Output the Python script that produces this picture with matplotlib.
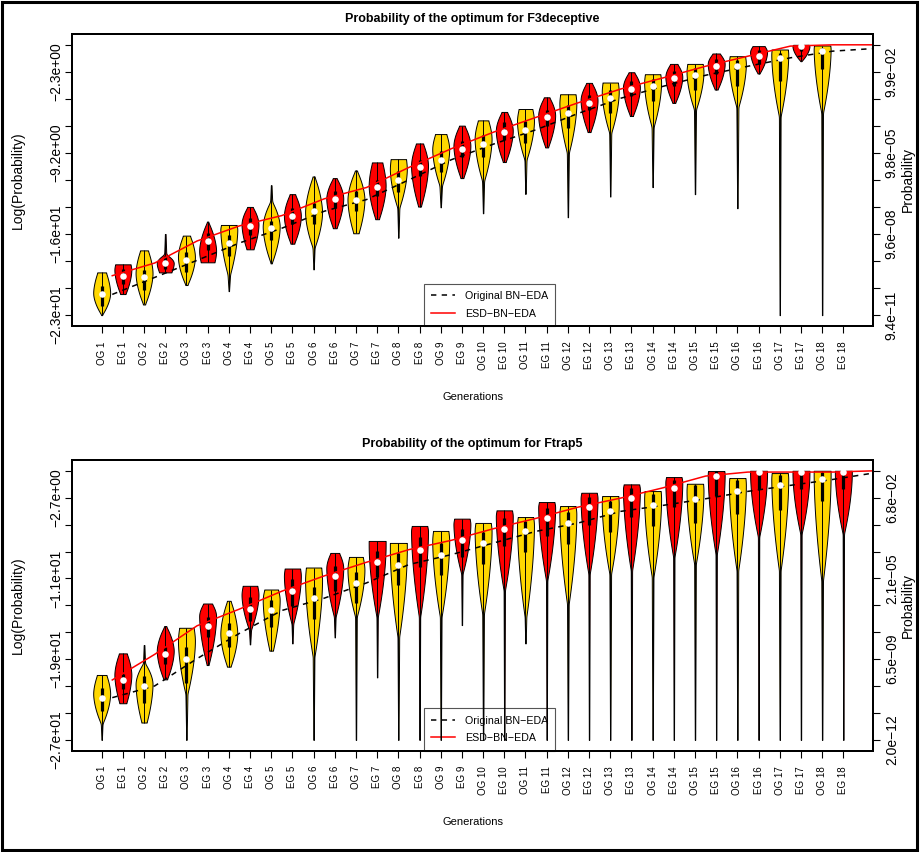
import numpy as np
import matplotlib
matplotlib.use("Agg")
import matplotlib.pyplot as plt
from matplotlib.lines import Line2D
from matplotlib.patches import Rectangle

plt.rcParams['font.family'] = ['Liberation Sans', 'DejaVu Sans']

# ---------------- data ----------------
generations = list(range(1, 19))
x_labels = [f"{p} {g}" for g in generations for p in ("OG", "EG")]

titles = ["Probability of the optimum for F3deceptive",
          "Probability of the optimum for Ftrap5"]
legend_labels = ["Original BN\u2212EDA", "ESD\u2212BN\u2212EDA"]

ymins = [-23.083, -26.93]
left_labels = [
    ["", "\u22122.3e+00", "", "", "\u22129.2e+00", "", "", "\u22121.6e+01", "", "", "\u22122.3e+01"],
    ["", "\u22122.7e+00", "", "", "\u22121.1e+01", "", "", "\u22121.9e+01", "", "", "\u22122.7e+01"],
]
right_labels = [
    ["", "9.9e\u221202", "", "", "9.8e\u221205", "", "", "9.6e\u221208", "", "", "9.4e\u221211"],
    ["", "6.8e\u221202", "", "", "2.1e\u221205", "", "", "6.5e\u221209", "", "", "2.0e\u221212"],
]

# ---- panel 1 (F3deceptive), Original generations ----
p1_og_hi = [-19.43, -17.55, -16.29, -15.38, -11.99, -11.24, -10.73, -9.76, -7.62, -6.45, -5.48, -4.22, -3.22, -2.51, -1.63, -0.97, -0.40, -0.06]
p1_og_lo = [-23.08, -22.17, -20.51, -21.03, -18.66, -19.17, -16.09, -16.46, -13.87, -14.38, -12.72, -14.72, -12.95, -12.15, -12.75, -13.95, -23.08, -23.08]
p1_og_med = [-21.31, -19.86, -18.40, -16.92, -15.66, -14.21, -13.21, -11.53, -9.81, -8.47, -7.25, -5.85, -4.56, -3.54, -2.60, -1.83, -1.11, -0.54]
p1_og_q3 = [-20.6, -19.2, -17.7, -16.2, -15.0, -13.5, -12.5, -10.8, -9.1, -7.7, -6.5, -5.1, -3.9, -2.9, -2.0, -1.3, -0.68, -0.26]
p1_og_q1 = [-22.3, -20.9, -19.4, -18.0, -16.7, -15.3, -14.2, -12.6, -10.9, -9.6, -8.4, -7.1, -5.8, -4.8, -3.9, -3.5, -3.1, -2.1]
p1_og_peak = [-21.2, -19.5, -18.1, -15.7, -15.5, -14.3, -13.2, -10.6, -8.9, -8.0, -6.5, -5.0, -4.0, -3.2, -2.3, -1.6, -0.8, -0.3]
p1_og_wtop = [0.5, 0.45, 0.4, 0.9, 0.04, 0.1, 0.1, 0.9, 0.65, 0.6, 0.8, 0.9, 0.9, 0.9, 0.9, 0.9, 0.95, 0.95]
p1_og_spike = [None, None, None, None, -13.4, None, None, None, None, None, None, None, None, None, None, None, None, None]
p1_og_tail = [-23.08, -22.17, -20.51, -19.6, -18.66, -17.3, -16.09, -13.9, -12.0, -11.6, -9.8, -9.2, -7.5, -7.0, -5.5, -5.3, -6.1, -5.8]
p1_og_wtail = [0.0, 0.1, 0.1, 0.15, 0.05, 0.12, 0.3, 0.12, 0.15, 0.12, 0.12, 0.12, 0.12, 0.12, 0.12, 0.12, 0.1, 0.1]

# ---- panel 1, ESD generations ----
p1_eg_hi = [-18.74, -16.15, -15.09, -13.84, -12.75, -11.38, -10.04, -8.42, -6.90, -5.73, -4.48, -3.25, -2.34, -1.63, -0.74, -0.11, 0.0, 0.0]
p1_eg_lo = [-21.28, -19.43, -18.57, -17.46, -16.98, -15.66, -14.89, -13.81, -11.38, -10.01, -8.76, -7.45, -6.08, -4.96, -3.82, -2.45, -1.40, 0.0]
p1_eg_med = [-19.71, -18.63, -16.75, -15.46, -14.58, -13.15, -12.18, -10.47, -8.87, -7.45, -6.19, -4.94, -3.77, -2.82, -1.83, -0.97, -0.11, 0.0]
p1_eg_q3 = [-19.1, -18.0, -16.1, -14.8, -13.9, -12.5, -11.5, -9.8, -8.2, -6.6, -5.6, -4.3, -3.1, -2.2, -1.2, -0.4, 0.0, 0.0]
p1_eg_q1 = [-20.4, -19.1, -17.5, -16.2, -15.3, -13.9, -12.9, -11.2, -9.6, -8.1, -6.9, -5.6, -4.4, -3.5, -2.5, -1.6, -0.5, 0.0]
p1_eg_peak = [-19.2, -18.6, -17.6, -15.3, -14.6, -13.1, -12.0, -10.3, -8.6, -7.3, -6.0, -4.7, -3.6, -2.7, -1.6, -0.6, -0.1, 0.0]
p1_eg_wtop = [0.9, 0.04, 0.05, 0.3, 0.3, 0.2, 0.6, 0.4, 0.3, 0.3, 0.3, 0.3, 0.3, 0.4, 0.4, 0.7, 0.9, 0.0]
p1_eg_spike = [None, -17.9, None, None, None, None, None, None, None, None, None, None, None, None, None, None, None, None]
p1_eg_tail = [-21.28, -19.43, -18.57, -17.46, -16.98, -15.66, -14.89, -13.81, -11.38, -10.01, -8.76, -7.45, -6.08, -4.96, -3.82, -2.45, -1.40, 0.0]
p1_eg_wtail = [0.3, 0.7, 0.8, 0.4, 0.2, 0.2, 0.2, 0.15, 0.15, 0.15, 0.15, 0.15, 0.15, 0.15, 0.15, 0.1, 0.05, 0.0]

# medians of the next generation, where the curves leave the plot
p1_og_next, p1_eg_next = -0.31, 0.0

# ---- panel 2 (Ftrap5), Original generations ----
p2_og_hi = [-20.43, -17.44, -15.71, -13.01, -11.88, -9.68, -8.62, -7.22, -6.02, -5.22, -4.63, -3.53, -2.53, -2.03, -1.30, -0.73, -0.23, 0.0]
p2_og_lo = [-26.92, -25.19, -26.92, -19.60, -18.00, -26.92, -26.92, -26.92, -26.92, -26.92, -17.27, -26.92, -26.92, -26.92, -26.92, -26.92, -26.92, -26.92]
p2_og_med = [-22.70, -21.53, -18.80, -16.27, -13.98, -12.75, -11.22, -9.38, -8.39, -7.22, -6.06, -5.22, -4.06, -3.46, -2.80, -2.06, -1.46, -0.87]
p2_og_q3 = [-21.7, -20.5, -17.6, -15.2, -12.9, -11.6, -10.1, -8.2, -7.2, -6.1, -5.0, -4.1, -3.0, -2.3, -1.4, -0.9, -0.4, -0.1]
p2_og_q1 = [-24.0, -23.2, -21.2, -17.6, -15.6, -14.8, -13.2, -11.4, -10.4, -9.3, -8.1, -7.3, -6.1, -5.5, -5.2, -4.3, -3.9, -3.0]
p2_og_peak = [-22.3, -21.3, -17.0, -16.3, -12.9, -10.9, -9.9, -8.0, -7.0, -6.0, -5.4, -4.3, -3.3, -2.8, -2.0, -1.4, -0.8, -0.4]
p2_og_wtop = [0.55, 0.04, 0.85, 0.2, 0.8, 0.9, 0.8, 1.0, 0.9, 0.9, 0.9, 0.9, 0.95, 0.95, 0.95, 0.95, 0.95, 1.0]
p2_og_spike = [None, -19.27, None, None, None, None, None, None, None, None, None, None, None, None, None, None, None, None]
p2_og_tail = [-25.3, -25.19, -22.3, -19.60, -18.00, -18.6, -14.6, -16.6, -14.6, -14.3, -14.6, -13.3, -10.3, -10.6, -9.3, -9.95, -9.95, -10.95]
p2_og_wtail = [0.1, 0.3, 0.12, 0.2, 0.2, 0.1, 0.1, 0.1, 0.1, 0.1, 0.1, 0.1, 0.1, 0.1, 0.1, 0.1, 0.1, 0.1]

# ---- panel 2, ESD generations ----
p2_eg_hi = [-18.27, -15.54, -13.28, -11.51, -9.78, -8.22, -7.02, -5.52, -4.79, -3.96, -3.13, -2.20, -1.36, -0.63, -0.03, 0.0, 0.0, 0.0]
p2_eg_lo = [-23.26, -20.87, -19.44, -17.37, -17.27, -16.67, -20.67, -26.92, -15.44, -26.92, -26.92, -26.92, -26.92, -26.92, -26.92, -26.92, -26.92, -26.92]
p2_eg_med = [-20.93, -18.37, -15.51, -13.84, -12.05, -10.52, -9.15, -7.89, -6.96, -5.79, -4.76, -3.63, -2.73, -1.70, -0.53, -0.13, -0.13, -0.13]
p2_eg_q3 = [-20.3, -17.6, -14.6, -12.6, -10.8, -9.5, -8.0, -6.6, -5.8, -4.7, -3.7, -2.6, -1.7, -0.9, 0.0, 0.0, 0.0, 0.0]
p2_eg_q1 = [-21.8, -19.3, -16.6, -15.0, -13.5, -12.0, -10.6, -9.6, -8.6, -7.5, -6.5, -5.4, -4.6, -3.6, -2.5, -1.8, -1.8, -1.8]
p2_eg_peak = [-20.4, -18.0, -14.5, -12.4, -10.5, -9.7, -7.5, -6.0, -5.3, -4.5, -3.6, -2.7, -1.8, -1.1, -0.3, 0.0, 0.0, 0.0]
p2_eg_wtop = [0.45, 0.1, 0.5, 0.85, 0.9, 0.5, 1.0, 0.9, 0.9, 0.9, 0.9, 0.9, 0.9, 0.9, 0.95, 1.0, 1.0, 1.0]
p2_eg_spike = [None] * 18
p2_eg_tail = [-23.26, -20.87, -19.44, -15.9, -15.3, -14.6, -14.6, -14.6, -10.3, -11.95, -10.95, -10.3, -9.95, -8.6, -8.3, -6.6, -6.3, -6.3]
p2_eg_wtail = [0.4, 0.2, 0.1, 0.12, 0.1, 0.1, 0.08, 0.08, 0.08, 0.08, 0.08, 0.08, 0.08, 0.08, 0.08, 0.08, 0.08, 0.08]

p2_og_next, p2_eg_next = -0.2, 0.0

OG_COLOR = "#FFD700"
EG_COLOR = "#FF0000"

panels = [
    dict(og=(p1_og_hi, p1_og_lo, p1_og_med, p1_og_q1, p1_og_q3, p1_og_peak, p1_og_wtop, p1_og_spike, p1_og_tail, p1_og_wtail),
         eg=(p1_eg_hi, p1_eg_lo, p1_eg_med, p1_eg_q1, p1_eg_q3, p1_eg_peak, p1_eg_wtop, p1_eg_spike, p1_eg_tail, p1_eg_wtail),
         nxt=(p1_og_next, p1_eg_next)),
    dict(og=(p2_og_hi, p2_og_lo, p2_og_med, p2_og_q1, p2_og_q3, p2_og_peak, p2_og_wtop, p2_og_spike, p2_og_tail, p2_og_wtail),
         eg=(p2_eg_hi, p2_eg_lo, p2_eg_med, p2_eg_q1, p2_eg_q3, p2_eg_peak, p2_eg_wtop, p2_eg_spike, p2_eg_tail, p2_eg_wtail),
         nxt=(p2_og_next, p2_eg_next)),
]

CONVEX = 1.7


def violin_stats(hi, lo, med, peak, wtop, spike, tail, wtail):
    rng = hi - lo
    ys = np.linspace(lo, hi, 600)
    w = np.zeros_like(ys)
    body_lo = tail if tail > lo + 1e-6 else lo
    body_hi = spike if (spike is not None and spike < hi) else hi
    pk = min(max(peak, body_lo + 0.02 * rng), body_hi - 0.01 * rng)
    w_lo_end = wtail if tail > lo + 1e-6 else max(wtail, 0.02)
    w_hi_end = 0.12 if body_hi < hi else max(wtop, 0.02)
    m = (ys >= body_lo) & (ys <= pk)
    d = (pk - ys[m]) / (pk - body_lo)
    w[m] = w_lo_end + (1 - w_lo_end) * (1 - d ** CONVEX)
    m = (ys > pk) & (ys <= body_hi)
    d = (ys[m] - pk) / (body_hi - pk)
    w[m] = w_hi_end + (1 - w_hi_end) * (1 - d ** CONVEX)
    m = ys < body_lo
    if m.any():
        w[m] = np.interp(ys[m], [lo, body_lo], [0.025, w_lo_end])
    m = ys > body_hi
    if m.any():
        w[m] = np.interp(ys[m], [body_hi, hi], [0.12, 0.04])
    sig = min(0.12, 0.03 * rng) / (ys[1] - ys[0])
    if sig > 0.5:
        n = int(3 * sig) + 1
        k = np.exp(-0.5 * (np.arange(-n, n + 1) / sig) ** 2)
        k /= k.sum()
        wp = np.pad(w, n, mode='edge')
        w = np.convolve(wp, k, mode='valid')
    return dict(coords=ys, vals=w, mean=med, median=med, min=lo, max=hi)


W, H = 921, 852
fig = plt.figure(figsize=(W / 100, H / 100), dpi=100)

axes_px = [(72, 34, 873, 326), (72, 460, 873, 750.7)]
title_y = [19, 444]
xlab_y = [397, 822]

for pi, (panel, (l, t, r, b)) in enumerate(zip(panels, axes_px)):
    ax = fig.add_axes([l / W, 1 - b / H, (r - l) / W, (b - t) / H])
    ymin = ymins[pi]
    span = -ymin
    ax.set_xlim(1 - 0.04 * 35, 36 + 0.04 * 35)
    ax.set_ylim(ymin - 0.04 * span, 0.04 * span)

    for kind, color, off in (("og", OG_COLOR, 0), ("eg", EG_COLOR, 1)):
        hi, lo, med, q1, q3, peak, wtop, spike, tail, wtail = panel[kind]
        for i in range(18):
            if hi[i] - lo[i] < 1e-6:
                continue
            pos = 2 * i + 1 + off
            st = violin_stats(hi[i], lo[i], med[i], peak[i], wtop[i], spike[i], tail[i], wtail[i])
            parts = ax.violin([st], positions=[pos], widths=0.8,
                              showmeans=False, showextrema=False, showmedians=False)
            for body in parts['bodies']:
                body.set_facecolor(color)
                body.set_edgecolor('black')
                body.set_linewidth(0.7)
                body.set_alpha(1)
                body.set_zorder(2)
            ax.vlines(pos, lo[i], hi[i], color='black', lw=0.7, zorder=2.1)
            ax.vlines(pos, q1[i], q3[i], color='black', lw=2.3, zorder=2.2,
                      capstyle='butt')
            ax.plot([pos], [med[i]], 'o', ms=4.7, mfc='white', mec='white',
                    mew=0, zorder=4)

    og_med = panel["og"][2] + [panel["nxt"][0]]
    eg_med = panel["eg"][2] + [panel["nxt"][1]]
    lx = [2 * g - 0.5 for g in range(1, 20)]
    ax.plot(lx, og_med, color='black', lw=1.1, ls=(0, (3.5, 3.5)), zorder=3)
    ax.plot(lx, eg_med, color='red', lw=1.1, zorder=3)

    ax.set_xticks(range(1, 37))
    ax.set_xticklabels(x_labels, rotation=90, fontsize=7)
    ticks = np.linspace(0, ymin, 11)
    ax.set_yticks(ticks)
    ax.set_yticklabels(left_labels[pi], rotation=90, va='center', fontsize=10)
    ax.tick_params(axis='both', length=5, width=0.8)
    ax.tick_params(axis='x', pad=6)
    ax.tick_params(axis='y', pad=1.5)
    for s in ax.spines.values():
        s.set_linewidth(1.4)
    ax.set_ylabel("Log(Probability)", fontsize=10, labelpad=17)

    ax2 = ax.twinx()
    ax2.set_ylim(ax.get_ylim())
    ax2.set_yticks(ticks)
    ax2.set_yticklabels(right_labels[pi], rotation=90, va='center', fontsize=10)
    ax2.tick_params(axis='y', length=5, width=0.8, pad=3.5)
    ax2.set_ylabel("Probability", fontsize=10, labelpad=1.5)
    for s in ax2.spines.values():
        s.set_linewidth(1.4)

    handles = [Line2D([], [], color='black', lw=1.1, ls=(0, (3.5, 3.5))),
               Line2D([], [], color='red', lw=1.1)]
    leg = ax.legend(handles, legend_labels, loc='lower left',
                    bbox_to_anchor=((424 - l) / (r - l), 0.0), borderaxespad=0,
                    fancybox=False, edgecolor='#555555', framealpha=1,
                    prop=dict(size=7.7), handlelength=2.2,
                    handletextpad=0.9, labelspacing=0.7, borderpad=0.7)
    leg.get_frame().set_linewidth(0.8)
    leg.set_zorder(1)

    fig.text(0.5 * (l + r) / W, 1 - title_y[pi] / H, titles[pi], ha='center', va='center',
             fontsize=9, fontweight='bold')
    fig.text(0.5 * (l + r) / W, 1 - xlab_y[pi] / H, "Generations", ha='center', va='center',
             fontsize=8)

fig.patches.append(Rectangle((2 / W, 2 / H), 915 / W, 848 / H, transform=fig.transFigure,
                             fill=False, edgecolor='black', lw=2.2))

fig.savefig("out.png", dpi=100)
